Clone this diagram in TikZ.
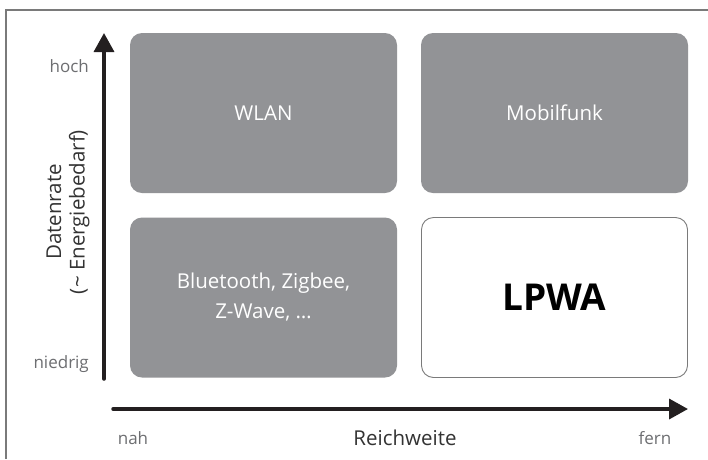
\documentclass[tikz,border=0pt]{standalone}
\usepackage{fontspec}
\setmainfont{Open Sans}
\usetikzlibrary{arrows.meta}
\definecolor{boxgray}{HTML}{929396}
\definecolor{lblgray}{HTML}{6D6E71}
\definecolor{axisblack}{HTML}{231F20}
\definecolor{framegray}{HTML}{7A7A7A}
\begin{document}
\begin{tikzpicture}[x=1pt,y=-1pt,
  cell/.style={rectangle,rounded corners=12pt,minimum width=267pt,minimum height=160pt,inner sep=0pt,align=center},
  darkcell/.style={cell,fill=boxgray,text=white,font=\fontsize{20.5}{30}\selectfont},
  lightcell/.style={cell,draw=framegray,line width=0.9pt,fill=white,text=black,font=\fontsize{37}{44}\selectfont\bfseries},
  axis/.style={draw=axisblack,line width=3.5pt,-{Triangle[length=19pt,width=20pt]}},
  ticklbl/.style={text=lblgray,font=\fontsize{17}{20}\selectfont,inner sep=0pt},
  axislbl/.style={text=black!80,font=\fontsize{20.5}{23.5}\selectfont,inner sep=0pt,align=center}]
\useasboundingbox (0,0) rectangle (708,459);
\fill[white] (0,0) rectangle (708,459);
\draw[framegray,line width=2pt] (6,459) -- (6,10) -- (708,10);
\node[darkcell] (wlan) at (263.5,113) {WLAN};
\node[darkcell] (mobil) at (554.5,113) {Mobilfunk};
\node[darkcell] (bt) at (263.5,297.5) {Bluetooth, Zigbee,\\Z-Wave, \dots};
\node[lightcell,minimum width=266pt] (lpwa) at (554.5,297.5) {LPWA};
\coordinate (yb) at (104,379);
\coordinate (yt) at (104,33);
\coordinate (xl) at (113,409);
\coordinate (xr) at (688,409);
\draw[axis,line cap=round] (yb) -- (yt);
\draw[axis,line cap=round] (xl) -- (xr);
\node[ticklbl,anchor=east] (hoch) at (89,66) {hoch};
\node[ticklbl,anchor=east] (niedrig) at (89,364) {niedrig};
\node[ticklbl] (nah) at (133,438) {nah};
\node[ticklbl] (fern) at (655,438) {fern};
\node[axislbl] (reich) at (405,438) {Reichweite};
\node[axislbl,rotate=90] (daten) at (68,212) {Datenrate\\(\textasciitilde{} Energiebedarf)};
\end{tikzpicture}
\end{document}
